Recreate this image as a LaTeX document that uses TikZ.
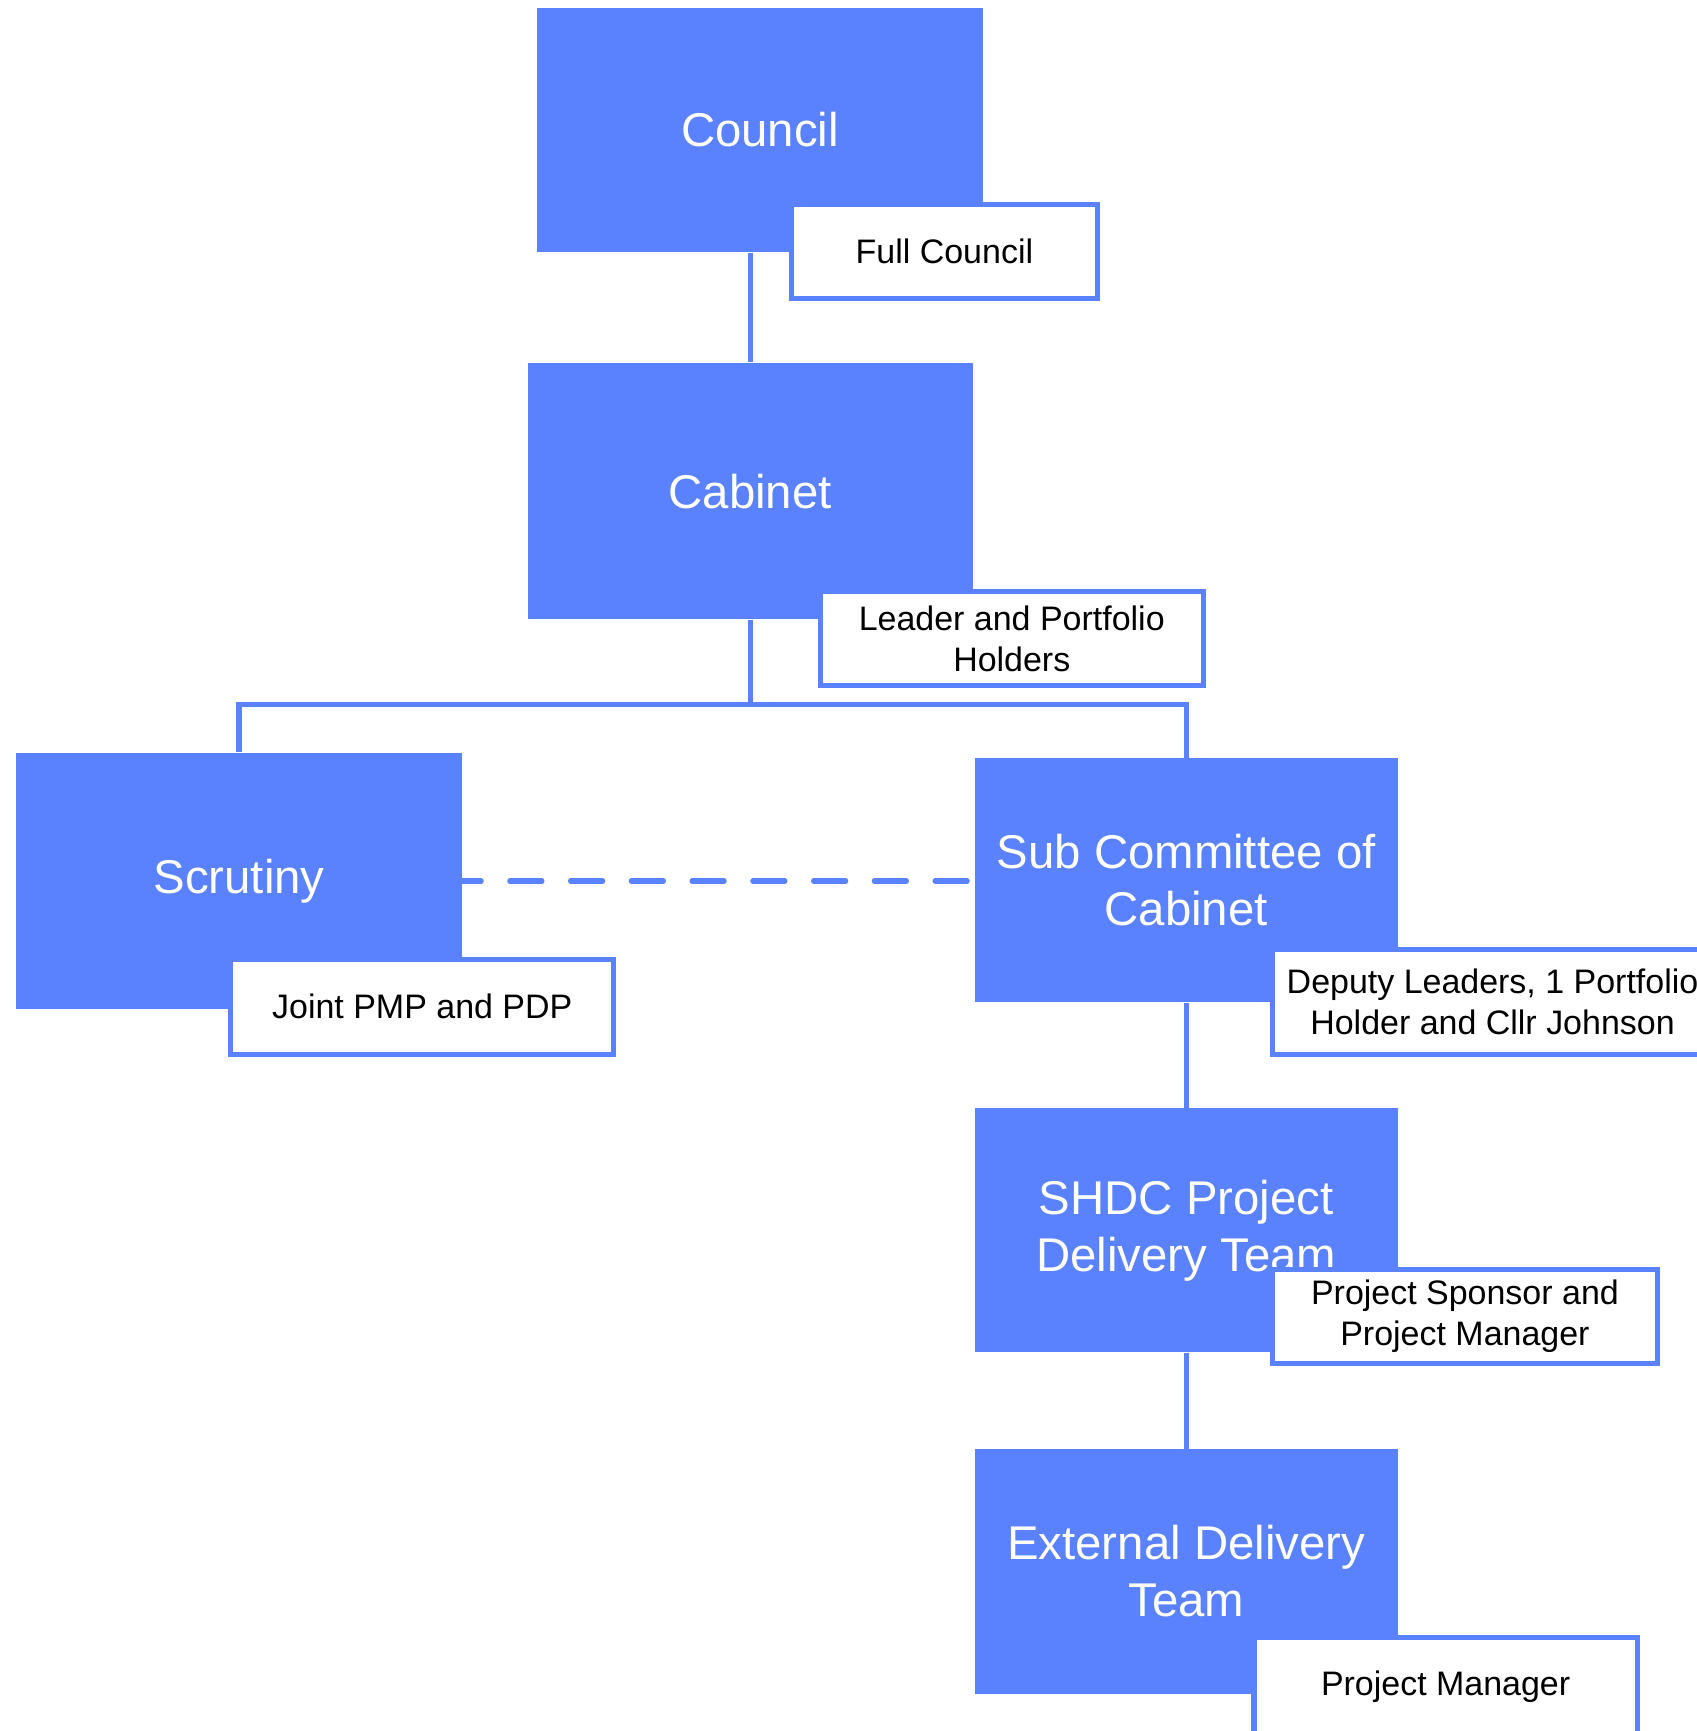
\documentclass[tikz,border=0pt]{standalone}
\usepackage{fontspec}
\setmainfont{Liberation Sans}
\definecolor{orgblue}{HTML}{5A82FE}
\tikzset{
  bigbox/.style={fill=orgblue, draw=none, inner sep=0pt, text=white, align=center,
    minimum width=4.03cm, minimum height=2.32cm,
    font=\fontsize{12.2pt}{14.7pt}\selectfont},
  labelbox/.style={fill=white, draw=orgblue, line width=1.3pt, inner sep=0pt, text=black, align=center,
    minimum width=3.47cm, minimum height=0.85cm,
    font=\fontsize{8.75pt}{10.5pt}\selectfont},
  conn/.style={draw=orgblue, line width=1.35pt},
  dashconn/.style={draw=orgblue, line width=1.35pt, line cap=round,
    dash pattern=on 0.29cm off 0.26cm, dash phase=0.12cm}
}
\begin{document}
\begin{tikzpicture}[x=0.01cm, y=-0.01cm]
\useasboundingbox (0,0) rectangle (1537,1568);
\clip (0,0) rectangle (1537,1568);
% main boxes
\node[bigbox, minimum height=2.21cm] (council) at (688.5,117.5) {Council};
\node[bigbox] (cabinet) at (679.5,445) {Cabinet};
\node[bigbox] (scrutiny) at (216.5,798) {Scrutiny};
\node[bigbox, minimum width=3.83cm, minimum height=2.21cm] (subc) at (1074.5,797.5) {Sub Committee of\\Cabinet};
\node[bigbox, minimum width=3.83cm, minimum height=2.21cm] (shdc) at (1074.5,1114.5) {SHDC Project\\Delivery Team};
\node[bigbox, minimum width=3.83cm, minimum height=2.21cm] (ext) at (1074.5,1423.5) {External Delivery\\Team};
% connectors
\coordinate (bus) at (679.5,638);
\draw[conn] (cabinet.north |- council.south) -- (cabinet.north);
\draw[conn] (cabinet.south) -- (bus);
\draw[conn] (scrutiny.north) -- (scrutiny.north |- bus) -- (subc.north |- bus) -- (subc.north);
\draw[dashconn] (scrutiny.east) -- (scrutiny.east -| subc.west);
\draw[conn] (subc.south) -- (shdc.north);
\draw[conn] (shdc.south) -- (ext.north);
% label boxes
\node[labelbox, minimum width=2.77cm] (fullc) at (855.5,227.5) {Full Council};
\node[labelbox] (leader) at (916.5,578.5) {Leader and Portfolio\\Holders};
\node[labelbox, minimum height=0.86cm] (joint) at (382.5,912) {Joint PMP and PDP};
\node[labelbox, minimum width=3.98cm, minimum height=0.95cm] (deputy) at (1352,907.5) {Deputy Leaders, 1 Portfolio\\Holder and Cllr Johnson};
\node[labelbox, minimum width=3.48cm] (sponsor) at (1327,1192.5) {Project Sponsor and\\Project Manager};
\node[labelbox, minimum height=0.90cm] (pm) at (1309.5,1528) {Project Manager};
\end{tikzpicture}
\end{document}
